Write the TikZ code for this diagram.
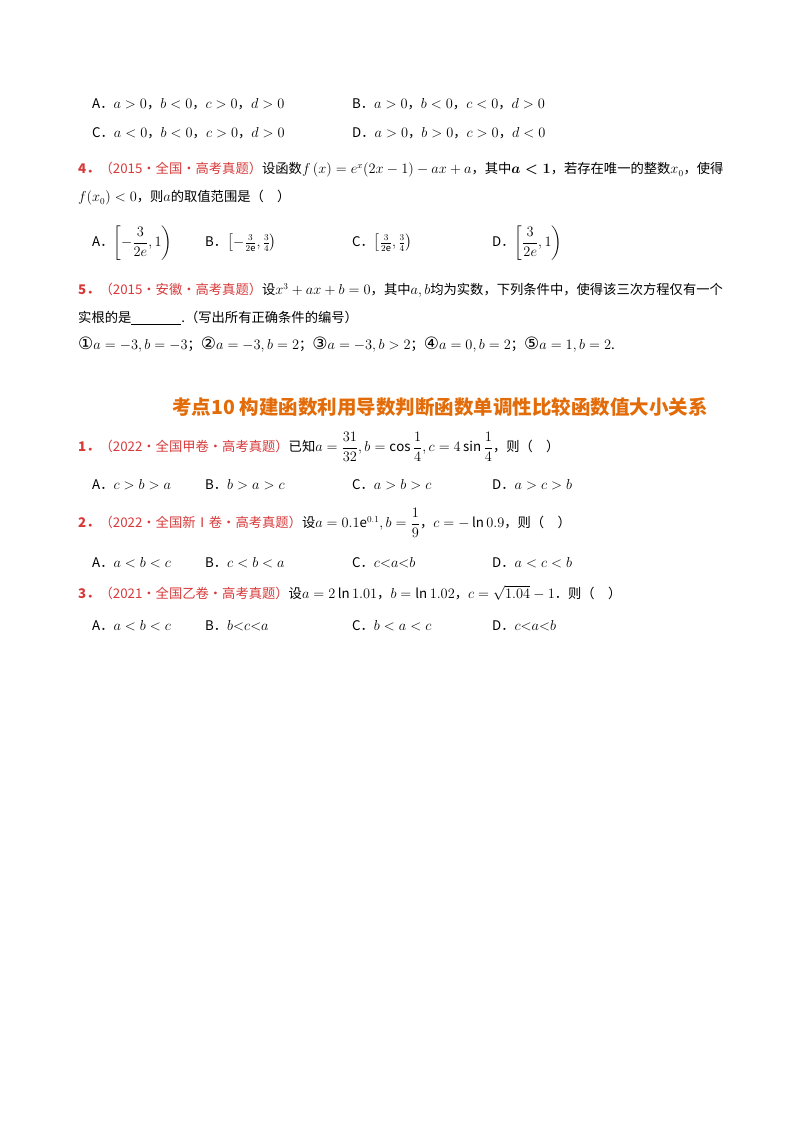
\documentclass[tikz,border=0pt]{standalone}
\usepackage{amsmath}
\usepackage{fontspec}
\setmainfont{Noto Sans CJK SC}
\newfontfamily\sym{DejaVu Sans}
\definecolor{qred}{HTML}{D7393A}
\definecolor{qorange}{HTML}{E36C0A}
\begin{document}
\begin{tikzpicture}[x=1pt,y=-1pt,
  t/.style={anchor=west,inner sep=0pt,font=\fontsize{13.3}{15}\selectfont},
  head/.style={inner sep=0pt,font=\fontsize{19.5}{22}\selectfont\bfseries,text=qorange}]
\useasboundingbox (0,0) rectangle (800,1132);
\newcommand{\src}[1]{\textcolor{qred}{#1}}
\newcommand{\ci}[1]{{\sym\fontsize{17}{17}\selectfont #1}}
\node[t] (a1) at (92,104) {A．$a>0$，$b<0$，$c>0$，$d>0$};
\node[t] (b1) at (352,104) {B．$a>0$，$b<0$，$c<0$，$d>0$};
\node[t] (c1) at (92,133) {C．$a<0$，$b<0$，$c>0$，$d>0$};
\node[t] (d1) at (352,133) {D．$a>0$，$b>0$，$c>0$，$d<0$};
\node[t] (q4) at (78,170) {\src{\textbf{4．}（2015·全国·高考真题）}设函数$f\left(x\right)=e^x(2x-1)-ax+a$，其中$\boldsymbol{a<1}$，若存在唯一的整数$x_0$，使得};
\node[t] (q4b) at (78,198) {$f(x_0)<0$，则$a$的取值范围是（\quad）};
\node[t] (a4) at (92,243) {A．$\left[-\dfrac{3}{2e},1\right)$};
\node[t] (b4) at (205,243) {B．$\left[-\tfrac{3}{2\mathrm{e}},\tfrac{3}{4}\right)$};
\node[t] (c4) at (352,243) {C．$\left[\tfrac{3}{2\mathrm{e}},\tfrac{3}{4}\right)$};
\node[t] (d4) at (492,243) {D．$\left[\dfrac{3}{2e},1\right)$};
\node[t] (q5) at (78,290) {\src{\textbf{5．}（2015·安徽·高考真题）}设$x^3+ax+b=0$，其中$a,b$均为实数，下列条件中，使得该三次方程仅有一个};
\node[t] (q5b) at (78,318) {实根的是\underline{\hspace{50pt}}.（写出所有正确条件的编号）};
\node[t] (q5c) at (78,345) {\ci{①}$a=-3,b=-3$；\ci{②}$a=-3,b=2$；\ci{③}$a=-3,b>2$；\ci{④}$a=0,b=2$；\ci{⑤}$a=1,b=2$.};
\node[head] (h) at (440,407) {考点10\ 构建函数利用导数判断函数单调性比较函数值大小关系};
\node[t] (q1) at (78,447) {\src{\textbf{1．}（2022·全国甲卷·高考真题）}已知$a=\dfrac{31}{32},b=\cos\dfrac14,c=4\sin\dfrac14$，则（\quad）};
\node[t] (a5) at (92,485) {A．$c>b>a$};
\node[t] (b5) at (205,485) {B．$b>a>c$};
\node[t] (c5) at (352,485) {C．$a>b>c$};
\node[t] (d5) at (492,485) {D．$a>c>b$};
\node[t] (q2) at (78,523) {\src{\textbf{2．}（2022·全国新Ⅰ卷·高考真题）}设$a=0.1\mathrm{e}^{0.1},b=\dfrac19$，$c=-\ln0.9$，则（\quad）};
\node[t] (a6) at (92,563) {A．$a<b<c$};
\node[t] (b6) at (205,563) {B．$c<b<a$};
\node[t] (c6) at (352,563) {C．$c{<}a{<}b$};
\node[t] (d6) at (492,563) {D．$a<c<b$};
\node[t] (q3) at (78,593) {\src{\textbf{3．}（2021·全国乙卷·高考真题）}设$a=2\ln1.01$，$b=\ln1.02$，$c=\sqrt{1.04}-1$．则（\quad）};
\node[t] (a7) at (92,626) {A．$a<b<c$};
\node[t] (b7) at (205,626) {B．$b{<}c{<}a$};
\node[t] (c7) at (352,626) {C．$b<a<c$};
\node[t] (d7) at (492,626) {D．$c{<}a{<}b$};
\end{tikzpicture}
\end{document}
